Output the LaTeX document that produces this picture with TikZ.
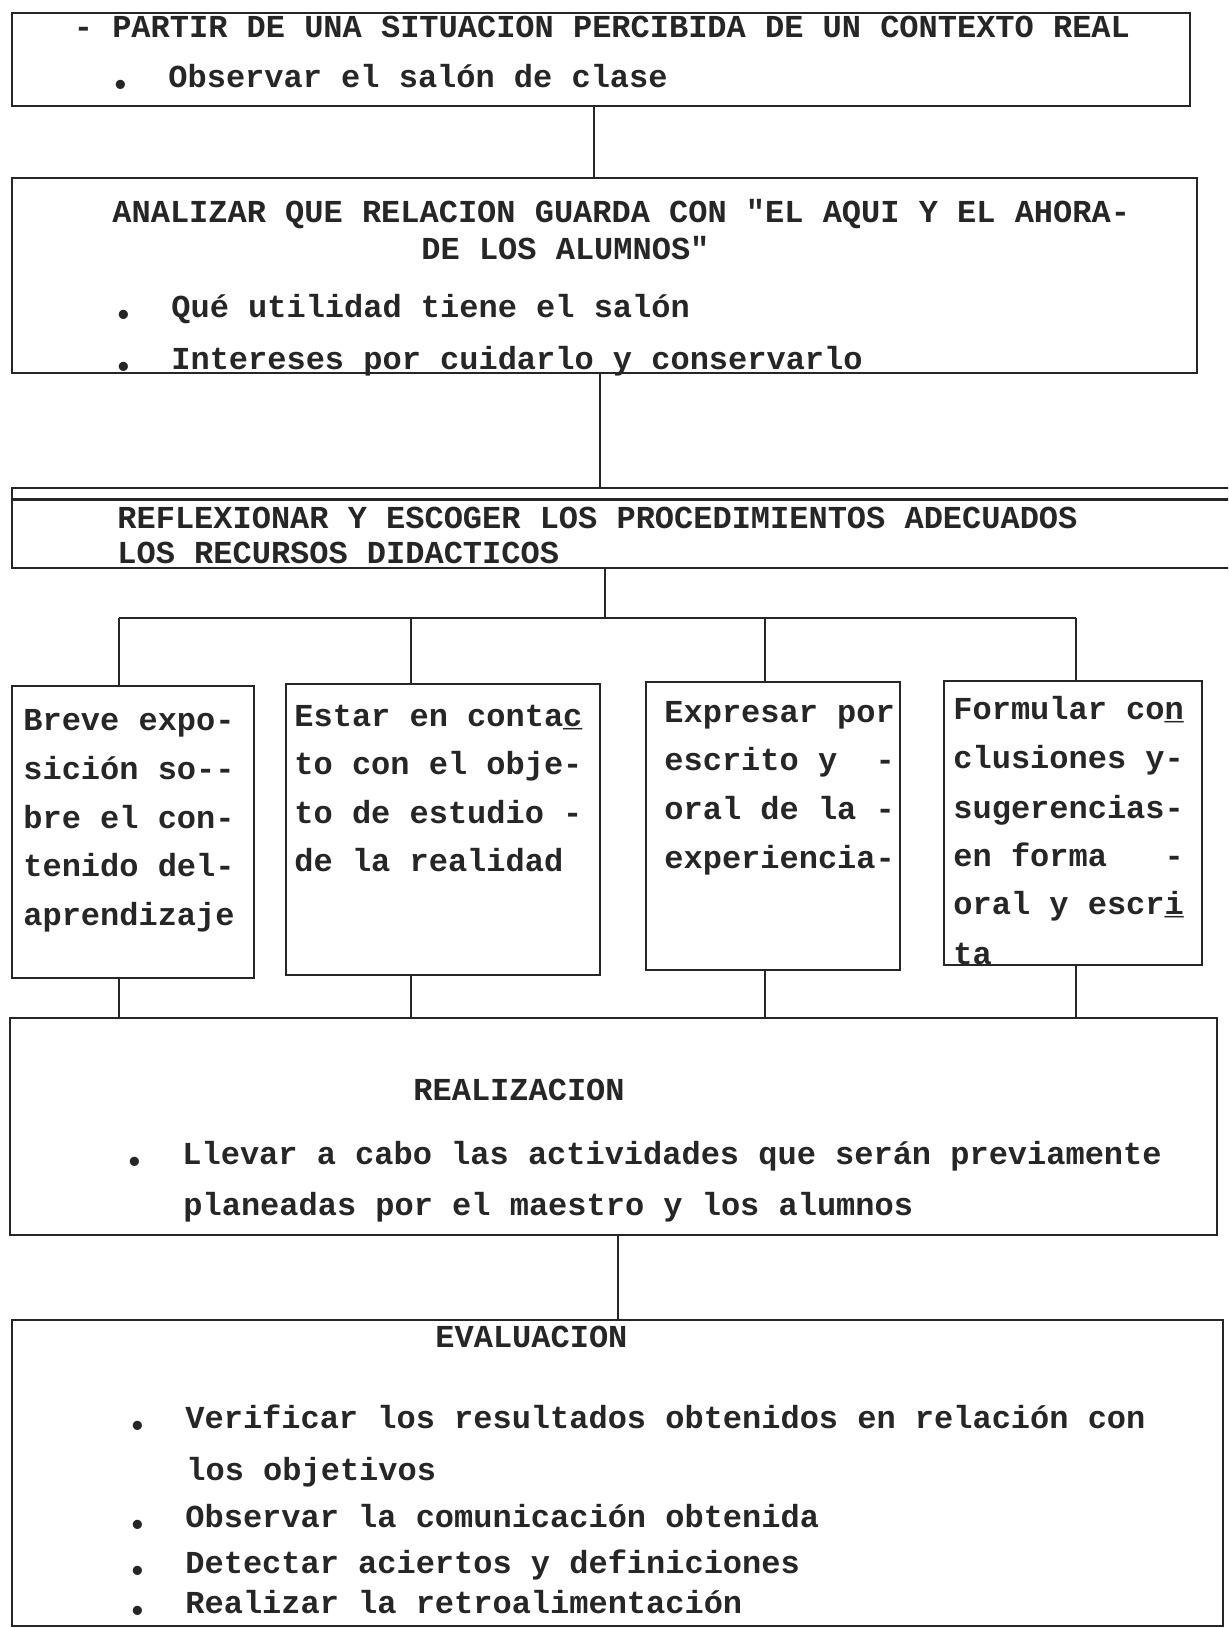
\documentclass[tikz,border=0pt]{standalone}
\usepackage{fontspec}
\setmonofont{Liberation Mono}
\usetikzlibrary{fit}
\colorlet{ink}{black!85}
\tikzset{
    box/.style={rectangle, draw=ink, line width=1.4pt, inner sep=0pt},
    txt/.style={anchor=base west, inner sep=0pt, text=ink, font=\ttfamily\bfseries\fontsize{16}{19}\selectfont},
    link/.style={draw=ink, line width=1.1pt}
}
\newcommand{\bul}{\makebox[24pt][l]{\makebox[0pt]{\raisebox{-4pt}{\textbullet}}}}
\newcommand{\uch}[1]{\rlap{\_}#1}
\frenchspacing

\begin{document}
\begin{tikzpicture}[x=0.5pt, y=-0.5pt]
    \useasboundingbox (0,0) rectangle (1228,1628);
    \clip (0,0) rectangle (1228,1628);

    % boxes
    \node[box, fit={(12,13) (1190,106)}] (partir) {};
    \node[box, fit={(12,178) (1197,373)}] (analizar) {};
    \node[box, fit={(12,488) (1240,568)}] (reflex) {};
    \node[box, fit={(12,686) (254,978)}] (breve) {};
    \node[box, fit={(286,684) (600,975)}] (estar) {};
    \node[box, fit={(646,682) (900,970)}] (expresar) {};
    \node[box, fit={(944,681) (1202,965)}] (formular) {};
    \node[box, fit={(10,1018) (1217,1235)}] (realiz) {};
    \node[box, fit={(12,1320) (1223,1626)}] (evalua) {};
    \draw[box] ([yshift=-6.5pt]reflex.north west) -- ([yshift=-6.5pt]reflex.north east);

    % texts
    \node[txt] (partir1) at (73.5,37) {-{} PARTIR DE UNA SITUACION PERCIBIDA DE UN CONTEXTO REAL};
    \node[txt] (partir2) at (120,87) {\bul Observar el salón de clase};

    \node[txt] (analizar1) at (112,222) {ANALIZAR QUE RELACION GUARDA CON "EL AQUI Y EL AHORA-{}};
    \node[txt] (analizar2) at (421,259) {DE LOS ALUMNOS"};
    \node[txt] (analizar3) at (123,317) {\bul Qué utilidad tiene el salón};
    \node[txt] (analizar4) at (123,369) {\bul Intereses por cuidarlo y conservarlo};

    \node[txt] (reflex1) at (117,528) {REFLEXIONAR Y ESCOGER LOS PROCEDIMIENTOS ADECUADOS};
    \node[txt] (reflex2) at (117,563) {LOS RECURSOS DIDACTICOS};

    \node[txt] (breve1) at (23,730) {Breve expo-{}};
    \node[txt] (breve2) at (23,779) {sición so-{}-{}};
    \node[txt] (breve3) at (23,828) {bre el con-{}};
    \node[txt] (breve4) at (23,876) {tenido del-{}};
    \node[txt] (breve5) at (23,925) {aprendizaje};

    \node[txt] (estar1) at (294,726) {Estar en conta\uch{c}};
    \node[txt] (estar2) at (294,774) {to con el obje-{}};
    \node[txt] (estar3) at (294,823) {to de estudio -{}};
    \node[txt] (estar4) at (294,871) {de la realidad};

    \node[txt] (expresar1) at (664,722) {Expresar por};
    \node[txt] (expresar2) at (664,770) {escrito y\ \ -{}};
    \node[txt] (expresar3) at (664,819) {oral de la -{}};
    \node[txt] (expresar4) at (664,868) {experiencia-{}};

    \node[txt] (formular1) at (953,719) {Formular co\uch{n}};
    \node[txt] (formular2) at (953,768) {clusiones y-{}};
    \node[txt] (formular3) at (953,818) {sugerencias-{}};
    \node[txt] (formular4) at (953,866) {en forma\ \ \ -{}};
    \node[txt] (formular5) at (953,914) {oral y escr\uch{i}};
    \node[txt] (formular6) at (953,964) {ta};

    \node[txt] (realiz1) at (413,1100) {REALIZACION};
    \node[txt] (realiz2) at (134,1164) {\bul Llevar a cabo las actividades que serán previamente};
    \node[txt] (realiz3) at (183,1215) {planeadas por el maestro y los alumnos};

    \node[txt] (evalua1) at (435,1347) {EVALUACION};
    \node[txt] (evalua2) at (137,1428) {\bul Verificar los resultados obtenidos en relación con};
    \node[txt] (evalua3) at (186,1480) {los objetivos};
    \node[txt] (evalua4) at (137,1527) {\bul Observar la comunicación obtenida};
    \node[txt] (evalua5) at (137,1573) {\bul Detectar aciertos y definiciones};
    \node[txt] (evalua6) at (137,1613) {\bul Realizar la retroalimentación};

    % connectors
    \coordinate (x1) at (594,0);
    \coordinate (x2) at (600,0);
    \coordinate (x3) at (605,0);
    \coordinate (x5) at (618,0);
    \coordinate (xa) at (119,0);
    \coordinate (xb) at (411,0);
    \coordinate (xc) at (765,0);
    \coordinate (xd) at (1076,0);
    \coordinate (bus) at (0,618);

    \draw[link] (partir.south -| x1) -- (analizar.north -| x1);
    \draw[link] (analizar.south -| x2) -- (reflex.north -| x2);
    \draw[link] (reflex.south -| x3) -- (bus -| x3);
    \draw[link] (bus -| xa) -- (bus -| xd);
    \foreach \k/\b in {xa/breve, xb/estar, xc/expresar, xd/formular} {
        \draw[link] (bus -| \k) -- (\b.north -| \k);
        \draw[link] (\b.south -| \k) -- (realiz.north -| \k);
    }
    \draw[link] (realiz.south -| x5) -- (evalua.north -| x5);
\end{tikzpicture}
\end{document}
